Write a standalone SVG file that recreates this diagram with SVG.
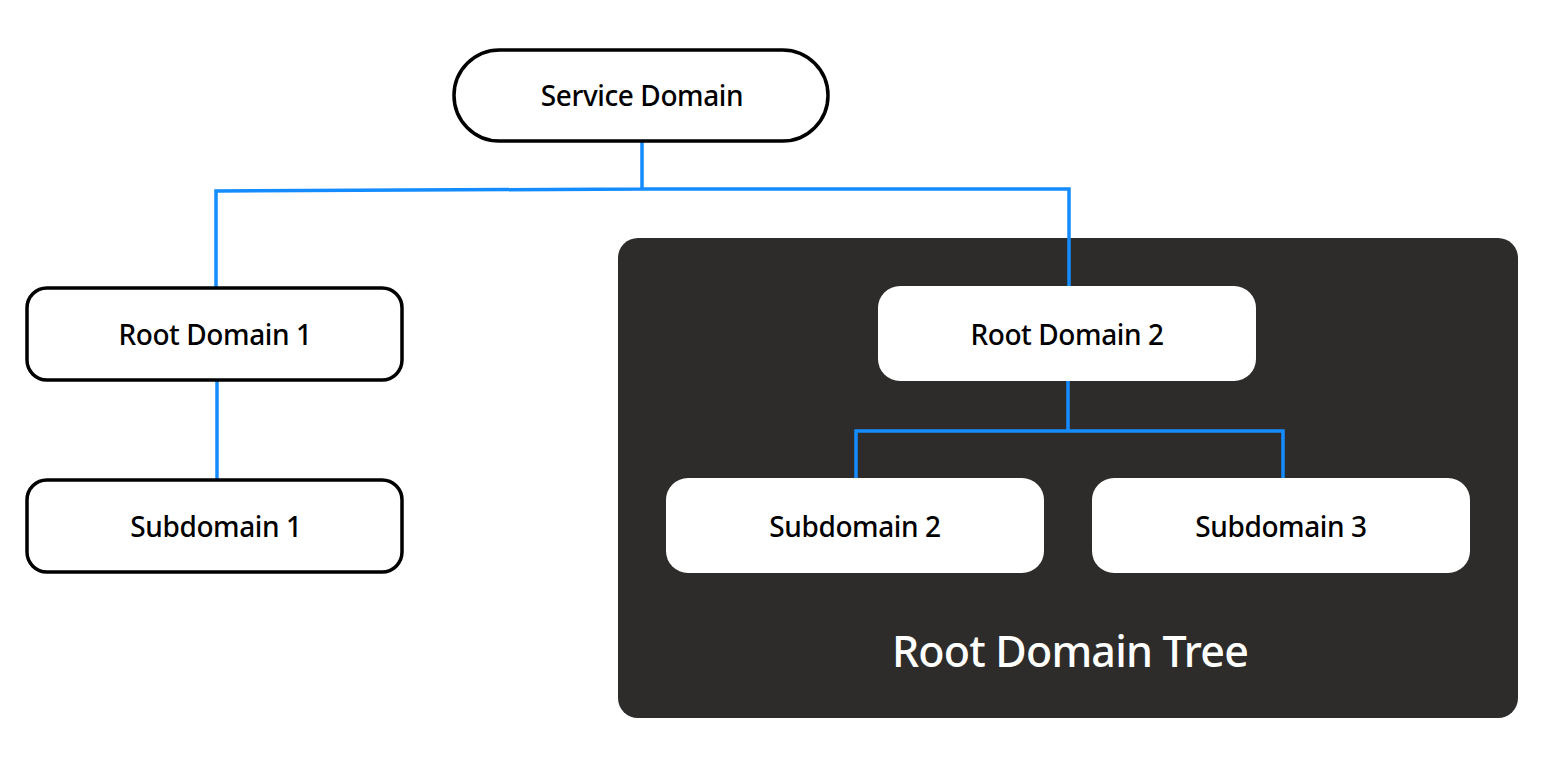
<svg xmlns="http://www.w3.org/2000/svg" width="1544" height="768" viewBox="0 0 1544 768">
<style>
.lbl{font-family:"Noto Sans","Open Sans","Liberation Sans",sans-serif;font-size:28px;font-weight:500;letter-spacing:-0.4px;fill:#000;text-anchor:middle}
.ob{fill:#fff;stroke:#000;stroke-width:3.5}
.wb{fill:#fff}
.con{fill:none;stroke:#148cff;stroke-width:3.5}
</style>
<rect width="1544" height="768" fill="#fff"/>
<g id="root-domain-tree">
<rect x="618" y="238" width="900" height="480" rx="20" fill="#2d2c2a"/>
<text x="1070" y="667" font-family="Noto Sans, Open Sans, Liberation Sans, sans-serif" font-size="43" font-weight="500" letter-spacing="-0.8" fill="#fff" text-anchor="middle">Root Domain Tree</text>
</g>
<g id="connectors">
<path class="con" d="M642 141 V189 M216 288 V191 L642 189 L1069 189 V286"/>
<path class="con" d="M217 380 V480"/>
<path class="con" d="M1068 381 V431 M856 478 V431 H1283 V478"/>
</g>
<g id="service-domain">
<rect class="ob" x="454" y="50" width="374" height="91" rx="45.5"/>
<text class="lbl" x="642" y="106">Service Domain</text>
</g>
<g id="root-domain-1">
<rect class="ob" x="27" y="288" width="375" height="92" rx="20"/>
<text class="lbl" x="215" y="345">Root Domain 1</text>
</g>
<g id="subdomain-1">
<rect class="ob" x="27" y="480" width="375" height="92" rx="20"/>
<text class="lbl" x="216" y="537">Subdomain 1</text>
</g>
<g id="root-domain-2">
<rect class="wb" x="878" y="286" width="378" height="95" rx="22"/>
<text class="lbl" x="1067" y="345">Root Domain 2</text>
</g>
<g id="subdomain-2">
<rect class="wb" x="666" y="478" width="378" height="95" rx="22"/>
<text class="lbl" x="855" y="537">Subdomain 2</text>
</g>
<g id="subdomain-3">
<rect class="wb" x="1092" y="478" width="378" height="95" rx="22"/>
<text class="lbl" x="1281" y="537">Subdomain 3</text>
</g>
</svg>
